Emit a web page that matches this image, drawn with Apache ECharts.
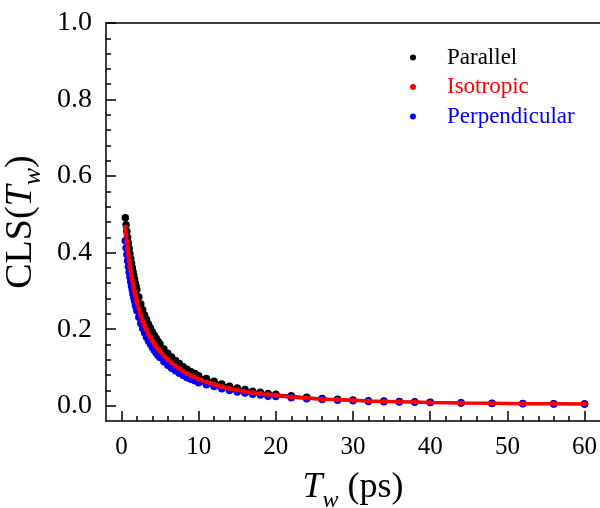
<!DOCTYPE html>
<html>
<head>
<meta charset="utf-8">
<script src="https://cdn.jsdelivr.net/npm/echarts@6/dist/echarts.min.js"></script>
<style>
  html, body { margin: 0; padding: 0; background: #fff; }
  #chart { width: 600px; height: 508px; }
</style>
</head>
<body>
<div id="chart"></div>
<script>
// Tw (ps) sample times
const tw = [0.5, 0.6, 0.7, 0.8, 0.9, 1.0, 1.1, 1.2, 1.3, 1.4, 1.5, 1.6, 1.7, 1.8, 1.9, 2.0,
    2.25, 2.5, 2.75, 3.0, 3.25, 3.5, 3.75, 4.0, 4.25, 4.5, 4.75, 5.0,
    5.5, 6.0, 6.5, 7.0, 7.5, 8.0, 8.5, 9.0, 9.5, 10,
    11, 12, 13, 14, 15, 16, 17, 18, 19, 20,
    22, 24, 26, 28, 30, 32, 34, 36, 38, 40,
    44, 48, 52, 56, 60];

const parallel = [0.491, 0.473, 0.456, 0.440, 0.425, 0.411, 0.397, 0.384, 0.372, 0.361, 0.350, 0.340, 0.330, 0.320, 0.312, 0.303,
    0.284, 0.266, 0.251, 0.237, 0.225, 0.213, 0.203, 0.193, 0.184, 0.176, 0.168, 0.161,
    0.148, 0.137, 0.127, 0.118, 0.110, 0.102, 0.095, 0.089, 0.084, 0.078,
    0.071, 0.064, 0.057, 0.051, 0.046, 0.042, 0.038, 0.035, 0.032, 0.030,
    0.026, 0.022, 0.019, 0.017, 0.015, 0.013, 0.012, 0.011, 0.010, 0.009,
    0.0075, 0.0065, 0.0055, 0.005, 0.0045];

const isotropic = [0.466, 0.447, 0.428, 0.410, 0.394, 0.378, 0.364, 0.352, 0.340, 0.329, 0.319, 0.309, 0.299, 0.289, 0.281, 0.273,
    0.254, 0.237, 0.222, 0.209, 0.198, 0.187, 0.179, 0.170, 0.162, 0.155, 0.148, 0.142,
    0.130, 0.121, 0.112, 0.104, 0.097, 0.090, 0.084, 0.078, 0.074, 0.069,
    0.062, 0.056, 0.050, 0.045, 0.041, 0.037, 0.034, 0.031, 0.029, 0.027,
    0.023, 0.020, 0.017, 0.016, 0.014, 0.012, 0.011, 0.010, 0.0095, 0.0085,
    0.0072, 0.0062, 0.0053, 0.0048, 0.0043];

const perpendicular = [0.431, 0.412, 0.395, 0.379, 0.363, 0.349, 0.336, 0.324, 0.313, 0.303, 0.292, 0.283, 0.274, 0.264, 0.257, 0.248,
    0.231, 0.215, 0.202, 0.190, 0.179, 0.169, 0.161, 0.152, 0.145, 0.138, 0.131, 0.126,
    0.115, 0.106, 0.098, 0.091, 0.085, 0.079, 0.073, 0.069, 0.065, 0.060,
    0.055, 0.050, 0.044, 0.040, 0.036, 0.033, 0.030, 0.028, 0.025, 0.024,
    0.021, 0.018, 0.016, 0.014, 0.013, 0.011, 0.0104, 0.0097, 0.0089, 0.0081,
    0.0068, 0.006, 0.0051, 0.0047, 0.0043];

const xTicks = [0, 10, 20, 30, 40, 50, 60];
const yTicks = [0, 0.2, 0.4, 0.6, 0.8, 1.0];

const FONT = 'Liberation Serif';

// minor ticks: every 2 ps on x, every 0.04 on y
let xMinor = [];
for (let v = 2; v < 62; v += 2) xMinor.push(v);
let yMinor = [];
for (let k = 1; k < 25; k++) yMinor.push(+(k * 0.04).toFixed(2));

function pairs(ys) {
    return tw.map((t, i) => [t, ys[i]]);
}

function titleRich(size) {
    return {
        i: { fontFamily: FONT, fontSize: size, fontStyle: 'italic', color: '#000', lineHeight: 50, verticalAlign: 'middle' },
        s: { fontFamily: FONT, fontSize: Math.round(size * 0.68), fontStyle: 'italic', color: '#000', lineHeight: 50, verticalAlign: 'bottom' },
        n: { fontFamily: FONT, fontSize: size, color: '#000', lineHeight: 50, verticalAlign: 'middle' }
    };
}

const chart = echarts.init(document.getElementById('chart'));

const lineAxis = { show: true, onZero: false, lineStyle: { color: '#000', width: 1.5 } };
const noLine = { show: false, onZero: false };

chart.setOption({
    animation: false,
    grid: { left: 106, right: 0, top: 23, bottom: 87, containLabel: false, outerBoundsMode: 'none' },
    legend: {
        orient: 'vertical',
        left: 405,
        top: 41,
        icon: 'circle',
        itemWidth: 58,
        itemHeight: 6,
        itemGap: 6.5,
        textStyle: { fontFamily: FONT, fontSize: 23, lineHeight: 22 },
        data: [
            { name: 'Parallel', textStyle: { color: '#000' } },
            { name: 'Isotropic', textStyle: { color: '#ff0000' } },
            { name: 'Perpendicular', textStyle: { color: '#0000ff' } }
        ]
    },
    xAxis: [{
        type: 'value', min: -2, max: 62, position: 'bottom',
        splitLine: { show: false },
        axisLine: lineAxis,
        axisTick: { inside: true, length: 10, customValues: xTicks, lineStyle: { color: '#000', width: 1.5 } },
        axisLabel: { customValues: xTicks, margin: 14, color: '#000', fontFamily: FONT, fontSize: 25 },
        name: '{i|T}{s|w}{n| (ps)}',
        nameLocation: 'middle',
        nameGap: 42,
        nameTextStyle: { rich: titleRich(36) }
    }, {
        type: 'value', min: -2, max: 62, position: 'bottom',
        splitLine: { show: false },
        axisLine: noLine,
        axisTick: { inside: true, length: 5, customValues: xMinor, lineStyle: { color: '#000', width: 1.5 } },
        axisLabel: { show: false }
    }, {
        type: 'value', min: -2, max: 62, position: 'top',
        splitLine: { show: false },
        axisLine: lineAxis,
        axisTick: { show: false },
        axisLabel: { show: false }
    }],
    yAxis: [{
        type: 'value', min: -0.04, max: 1.0, position: 'left',
        splitLine: { show: false },
        axisLine: lineAxis,
        axisTick: { inside: true, length: 10, customValues: yTicks, lineStyle: { color: '#000', width: 1.5 } },
        axisLabel: {
            customValues: yTicks, margin: 14, color: '#000', fontFamily: FONT, fontSize: 28,
            formatter: v => v.toFixed(1)
        },
        name: '{n|CLS(}{i|T}{s|w}{n|)}',
        nameLocation: 'middle',
        nameRotate: 90,
        nameGap: 49,
        nameTextStyle: { rich: titleRich(38) }
    }, {
        type: 'value', min: -0.04, max: 1.0, position: 'left',
        splitLine: { show: false },
        axisLine: noLine,
        axisTick: { inside: true, length: 5, customValues: yMinor, lineStyle: { color: '#000', width: 1.5 } },
        axisLabel: { show: false }
    }],
    series: [{
        name: 'Parallel', type: 'line', data: pairs(parallel),
        symbol: 'circle', symbolSize: 7.5, showAllSymbol: true,
        itemStyle: { color: '#000' },
        lineStyle: { color: '#000', width: 2 },
        z: 2
    }, {
        name: 'Perpendicular', type: 'line', data: pairs(perpendicular),
        symbol: 'circle', symbolSize: 7.5, showAllSymbol: true,
        itemStyle: { color: '#0000ff' },
        lineStyle: { color: '#0000ff', width: 2 },
        z: 3
    }, {
        name: 'Isotropic', type: 'line', data: pairs(isotropic),
        symbol: 'circle', symbolSize: 5, showAllSymbol: true,
        itemStyle: { color: '#ff0000' },
        lineStyle: { color: '#ff0000', width: 3.5 },
        z: 4
    }]
});
</script>
</body>
</html>
